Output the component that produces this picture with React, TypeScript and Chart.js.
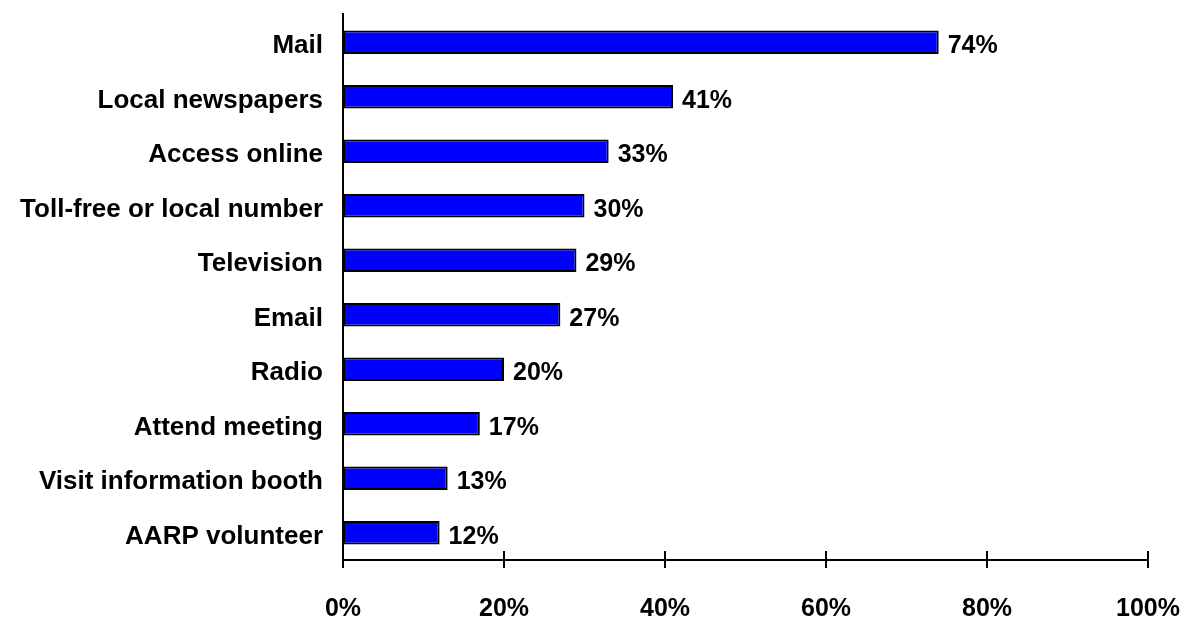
import React, { useEffect, useRef } from "react";
import { Chart, registerables } from "chart.js";

Chart.register(...registerables);

const categories = [
  "Mail",
  "Local newspapers",
  "Access online",
  "Toll-free or local number",
  "Television",
  "Email",
  "Radio",
  "Attend meeting",
  "Visit information booth",
  "AARP volunteer",
];
const values = [74, 41, 33, 30, 29, 27, 20, 17, 13, 12];
const xTicks = [0, 20, 40, 60, 80, 100];

const FONT = "'Liberation Sans', Arial, sans-serif";

const overlayPlugin = {
  id: "overlay",
  afterDatasetsDraw(chart: any) {
    const ctx = chart.ctx;
    const meta = chart.getDatasetMeta(0);
    ctx.save();
    ctx.fillStyle = "#000";
    ctx.font = `bold 25px ${FONT}`;
    ctx.textAlign = "left";
    ctx.textBaseline = "middle";
    meta.data.forEach((bar: any, i: number) => {
      ctx.fillText(`${values[i]}%`, bar.x + 9, bar.y + 4);
    });
    // axes
    const xs = chart.scales.x;
    const area = chart.chartArea;
    ctx.strokeStyle = "#000";
    ctx.lineWidth = 2;
    ctx.beginPath();
    ctx.moveTo(area.left, area.top - 2);
    ctx.lineTo(area.left, area.bottom + 8);
    ctx.moveTo(area.left, area.bottom);
    ctx.lineTo(area.right, area.bottom);
    xTicks.forEach((t) => {
      const px = xs.getPixelForValue(t);
      ctx.moveTo(px, area.bottom - 9);
      ctx.lineTo(px, area.bottom + 8);
    });
    ctx.stroke();
    ctx.restore();
  },
};

export default function App() {
  const ref = useRef<HTMLCanvasElement>(null);
  useEffect(() => {
    if (!ref.current) return;
    const chart = new Chart(ref.current, {
      type: "bar",
      data: {
        labels: categories,
        datasets: [
          {
            data: values,
            backgroundColor: "#0000FF",
            borderColor: "#000000",
            borderWidth: 2,
            borderSkipped: false,
            categoryPercentage: 1,
            barPercentage: 0.43,
          },
        ],
      },
      options: {
        indexAxis: "y",
        animation: false,
        responsive: false,
        maintainAspectRatio: false,
        layout: { padding: { top: 15, right: 38, left: 0, bottom: 0 } },
        plugins: {
          legend: { display: false },
          tooltip: { enabled: false },
        },
        scales: {
          x: {
            min: 0,
            max: 100,
            afterBuildTicks(scale: any) {
              scale.ticks = xTicks.map((v) => ({ value: v }));
            },
            afterFit(scale: any) {
              scale.height = 57;
              scale.paddingLeft = 0;
              scale.paddingRight = 0;
            },
            grid: { display: false },
            border: { display: false },
            ticks: {
              color: "#000",
              font: { family: FONT, size: 25, weight: "bold" },
              padding: 26,
              maxRotation: 0,
              callback: (v: any) => `${v}%`,
            },
          },
          y: {
            afterFit(scale: any) {
              scale.width = 343;
              scale.paddingTop = 0;
              scale.paddingBottom = 0;
            },
            grid: { display: false, drawTicks: false },
            border: { display: false },
            ticks: {
              color: "#000",
              font: { family: FONT, size: 26, weight: "bold" },
              padding: 20,
              labelOffset: 4,
              autoSkip: false,
            },
          },
        },
      },
      plugins: [overlayPlugin],
    });
    return () => chart.destroy();
  }, []);
  return (
    <div style={{ position: "fixed", left: 0, top: 0, width: 1186, height: 617, background: "#fff" }}>
      <canvas ref={ref} width={1186} height={617} style={{ width: 1186, height: 617, display: "block" }} />
    </div>
  );
}
